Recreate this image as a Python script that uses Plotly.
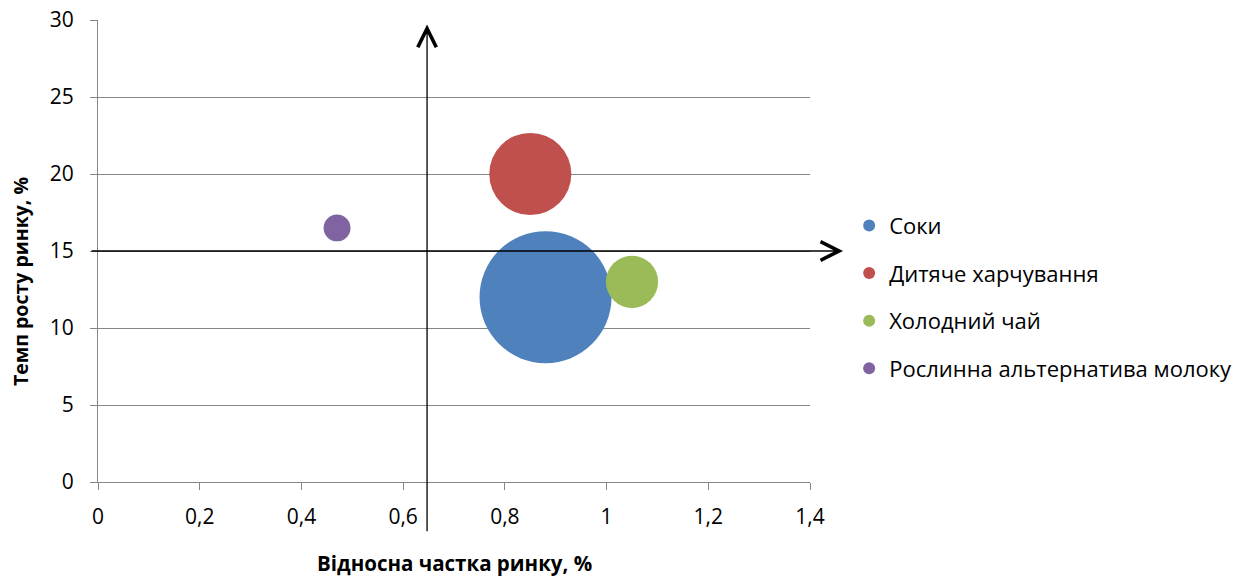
import plotly.graph_objects as go

names = ["Соки", "Дитяче харчування", "Холодний чай", "Рослинна альтернатива молоку"]
share = [0.88, 0.85, 1.05, 0.47]
growth = [12.0, 20.0, 13.0, 16.5]
size = [30.0, 11.6, 4.7, 1.25]
colors = ["#4F81BD", "#C0504D", "#9BBB59", "#8064A2"]

x_ticks = [0, 0.2, 0.4, 0.6, 0.8, 1.0, 1.2, 1.4]
y_ticks = [0, 5, 10, 15, 20, 25, 30]

FONT = "Open Sans"
sizeref = 2 * max(size) / 132 ** 2

fig = go.Figure()
for i, n in enumerate(names):
    fig.add_trace(go.Scatter(
        x=[share[i]], y=[growth[i]], mode="markers", name=n,
        legendgroup=n,
        marker=dict(size=[size[i]], sizemode="area", sizeref=sizeref,
                    color=colors[i], line=dict(width=0), opacity=1),
        cliponaxis=False,
    ))

axis_common = dict(showline=True, linecolor="#868686", linewidth=1,
                   ticks="outside", ticklen=7, tickcolor="#868686",
                   gridcolor="#868686", gridwidth=1, automargin=False,
                   zeroline=False, tickfont=dict(family=FONT, size=21, color="#000"))

fig.update_layout(
    width=1246, height=579,
    margin=dict(l=98, r=436, t=20, b=97, autoexpand=False),
    paper_bgcolor="white", plot_bgcolor="white",
    separators=", ",
    showlegend=True,
    legend=dict(x=1.055, y=0.40, xanchor="left", yanchor="middle",
                font=dict(family=FONT, size=22, color="#000"),
                traceorder="grouped", tracegroupgap=16,
                itemsizing="constant", bgcolor="rgba(0,0,0,0)"),
    xaxis=dict(range=[0, 1.4], tickvals=x_ticks, showgrid=False,
               ticklabelstandoff=9, **axis_common),
    yaxis=dict(range=[0, 30], tickvals=y_ticks, showgrid=True,
               ticklabelstandoff=12, **axis_common),
)

# Axis titles
fig.add_annotation(text="<b>Відносна частка ринку, %</b>", xref="paper", yref="paper",
                   x=0.5, y=-0.175, yanchor="middle", showarrow=False,
                   font=dict(family=FONT, size=20.5, color="#000"))
fig.add_annotation(text="<b>Темп росту ринку, %</b>", xref="paper", yref="paper",
                   x=-0.108, y=0.433, xanchor="center", yanchor="middle", textangle=-90,
                   showarrow=False, font=dict(family=FONT, size=19.5, color="#000"))

# Quadrant arrows
fig.add_annotation(x=0.647, y=29.7, ax=0.647, ay=-3.3, xref="x", yref="y",
                   axref="x", ayref="y", text="", showarrow=True,
                   arrowhead=5, arrowsize=2.8, arrowwidth=1.3, arrowcolor="#000")
fig.add_annotation(x=1.465 / 1.4, y=15, xref="paper", yref="y",
                   ax=-753, ay=0, text="", showarrow=True,
                   arrowhead=5, arrowsize=2.8, arrowwidth=1.3, arrowcolor="#000")

fig.write_html("out.html")
